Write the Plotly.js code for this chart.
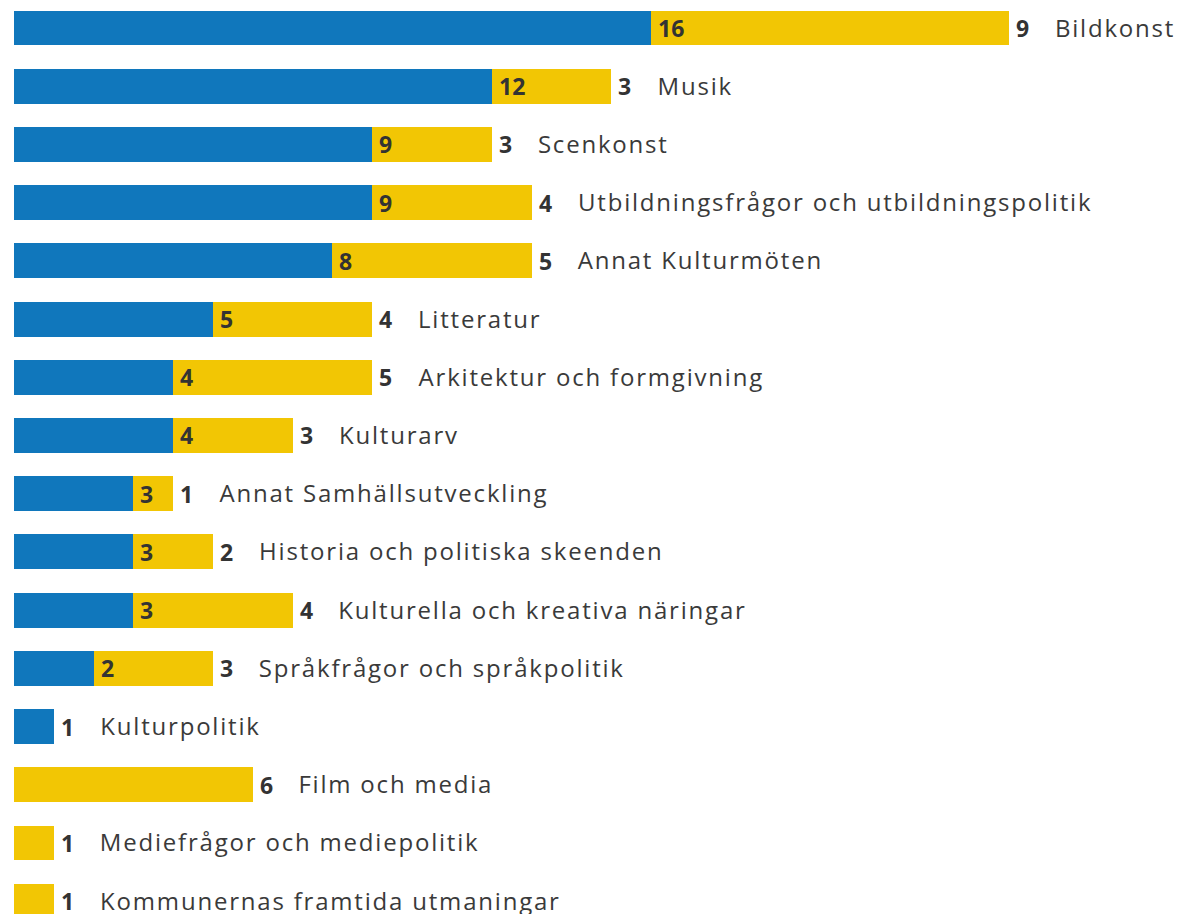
<!DOCTYPE html>
<html>
<head>
<meta charset="utf-8">
<script src="https://cdn.plot.ly/plotly-3.0.1.min.js"></script>
<style>
html,body{margin:0;padding:0;background:#fff;}
#chart{width:1180px;height:914px;}
#chart .annotation-text[style*="58, 58, 58"]{letter-spacing:1.8px;}
</style>
</head>
<body>
<div id="chart"></div>
<script>
const categories = [
  "Bildkonst",
  "Musik",
  "Scenkonst",
  "Utbildningsfrågor och utbildningspolitik",
  "Annat Kulturmöten",
  "Litteratur",
  "Arkitektur och formgivning",
  "Kulturarv",
  "Annat Samhällsutveckling",
  "Historia och politiska skeenden",
  "Kulturella och kreativa näringar",
  "Språkfrågor och språkpolitik",
  "Kulturpolitik",
  "Film och media",
  "Mediefrågor och mediepolitik",
  "Kommunernas framtida utmaningar"
];
const blueValues   = [16, 12, 9, 9, 8, 5, 4, 4, 3, 3, 3, 2, 1, 0, 0, 0];
const yellowValues = [9, 3, 3, 4, 5, 4, 5, 3, 1, 2, 4, 3, 0, 6, 1, 1];

const BLUE = "#1077bc";
const YELLOW = "#f2c604";
const FONT = "Open Sans";
const TEXT = "#333333";
const NAME_COLOR = "#3a3a3a";
const LS = 1.8; // letter spacing applied to names via CSS

const traces = [
  {type: "bar", orientation: "h", y: categories, x: blueValues, marker: {color: BLUE}, width: 0.6, hoverinfo: "none"},
  {type: "bar", orientation: "h", y: categories, x: yellowValues, marker: {color: YELLOW}, width: 0.6, hoverinfo: "none"}
];

const annotations = [];
categories.forEach((c, i) => {
  const b = blueValues[i], yv = yellowValues[i];
  const total = b + yv;
  if (b > 0 && yv > 0) {
    annotations.push({x: b, y: c, xref: "x", yref: "y", xanchor: "left", yanchor: "middle",
      xshift: 5, text: "<b>" + b + "</b>", showarrow: false, font: {family: FONT, size: 23, color: TEXT}});
  }
  const outVal = yv > 0 ? yv : b;
  annotations.push({x: total, y: c, xref: "x", yref: "y", xanchor: "left", yanchor: "middle",
    xshift: 5, text: "<b>" + outVal + "</b>", showarrow: false, font: {family: FONT, size: 23, color: TEXT}});
  annotations.push({x: total, y: c, xref: "x", yref: "y", xanchor: "left", yanchor: "middle",
    xshift: 44 + c.length * LS / 2, yshift: 1, text: c, showarrow: false, font: {family: FONT, size: 24, color: NAME_COLOR}});
});

const layout = {
  width: 1180, height: 914,
  margin: {l: 14, r: 0, t: 0, b: 0, pad: 0},
  barmode: "stack",
  showlegend: false,
  paper_bgcolor: "#ffffff",
  plot_bgcolor: "#ffffff",
  xaxis: {range: [0, 29.29], showgrid: false, zeroline: false, showticklabels: false, ticks: "", showline: false, fixedrange: true},
  yaxis: {type: "category", range: [15.22, -0.481], showgrid: false, zeroline: false, showticklabels: false, ticks: "", showline: false, fixedrange: true},
  annotations: annotations,
  font: {family: FONT}
};

Plotly.newPlot("chart", traces, layout, {displayModeBar: false, staticPlot: true});
</script>
</body>
</html>
